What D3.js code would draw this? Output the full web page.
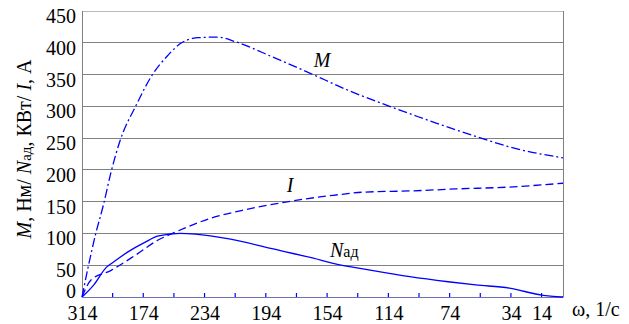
<!DOCTYPE html>
<html>
<head>
<meta charset="utf-8">
<script src="https://cdn.jsdelivr.net/npm/d3@7"></script>
<style>
  body { margin: 0; background: #fff; }
</style>
</head>
<body>
<svg width="629" height="324"></svg>
<script>
// omega values (1/c) and readings for each curve
const mOmega = [314, 310, 305, 300, 295, 289, 279, 268, 258, 249, 238, 226, 213, 190, 165, 140, 112, 95, 56, 30, 0]
const mValues = [0, 47, 100, 145, 197, 247, 300, 350, 380, 400, 408, 409, 401, 378, 352, 325, 299, 284, 252, 233, 219]

const iOmega = [314, 308, 295, 279, 264, 255, 237, 230, 210, 177, 150, 130, 98, 70, 35, 0]
const iValues = [0, 27, 42, 66, 90, 100, 118, 124, 136, 151, 160, 165, 167, 170, 173, 179]

const nOmega = [314, 306, 298, 294, 284, 273, 264, 250, 240, 217, 190, 163, 150, 125, 100, 75, 57, 35, 14, 0]
const nValues = [0, 20, 47, 54, 71, 86, 96, 100, 99, 91, 76, 61, 53, 42, 32, 24, 19, 14, 3, 0]

const yTicks = [0, 50, 100, 150, 200, 250, 300, 350, 400, 450]
const xTicks = d3.range(314, 0, -20)
// labels as printed on the original (note "174" where 274 belongs)
const xTickLabels = { 314: "314", 274: "174", 234: "234", 194: "194", 154: "154", 114: "114", 74: "74", 34: "34", 14: "14" }

const serif = "'Liberation Serif', 'DejaVu Serif', 'Times New Roman', serif"

const svg = d3.select("svg").style("font-family", serif)
const plotLeft = 82, plotRight = 563, plotTop = 11, plotBottom = 297

const x = d3.scaleLinear().domain([314, 0]).range([plotLeft, plotRight])
const y = d3.scaleLinear().domain([0, 450]).range([plotBottom, plotTop])

// grid
svg.append("g")
    .selectAll("line")
    .data(yTicks.filter(d => d > 0))
    .enter().append("line")
    .attr("x1", plotLeft).attr("x2", plotRight)
    .attr("y1", d => y(d)).attr("y2", d => y(d))
    .attr("stroke", d => d === 450 ? "#b8b8b8" : "#808080")
    .attr("stroke-width", 1)
    .attr("shape-rendering", "crispEdges")

// frame
svg.append("line").attr("x1", plotLeft).attr("x2", plotLeft).attr("y1", plotTop).attr("y2", plotBottom)
    .attr("stroke", "#808080").attr("shape-rendering", "crispEdges")
svg.append("line").attr("x1", plotRight).attr("x2", plotRight).attr("y1", plotTop).attr("y2", plotBottom)
    .attr("stroke", "#808080").attr("shape-rendering", "crispEdges")

// y axis labels
svg.append("g")
    .selectAll("text")
    .data(yTicks)
    .enter().append("text")
    .attr("x", 76)
    .attr("y", d => d === 0 ? y(d) - 6 : y(d) + 5)
    .attr("dy", "0.35em")
    .attr("text-anchor", "end")
    .style("font-size", "20px")
    .text(d => d)

// x axis
const xAxis = svg.append("g").attr("transform", `translate(0,${plotBottom})`)
    .call(d3.axisBottom(x).tickValues(xTicks).tickSize(0).tickFormat(d => xTickLabels[d] || ""))
xAxis.attr("font-family", null).attr("font-size", null)
xAxis.select(".domain").attr("stroke", "#7070b8")
xAxis.selectAll("text")
    .attr("dy", 0).attr("y", 23)
    .style("font-size", "20px")
    .attr("fill", "#000")

svg.append("g")
    .selectAll("line")
    .data(xTicks.slice(1))
    .enter().append("line")
    .attr("x1", d => x(d)).attr("x2", d => x(d))
    .attr("y1", plotBottom).attr("y2", plotBottom - 4)
    .attr("stroke", "#0000ff")
    .attr("stroke-width", 1.2)

// curves
const line = d3.line()
    .x(d => x(d[0]))
    .y(d => y(d[1]))
    .curve(d3.curveMonotoneX)

function drawCurve(omega, values, dash) {
    svg.append("path")
        .datum(d3.zip(omega, values))
        .attr("d", line)
        .attr("fill", "none")
        .attr("stroke", "#0000ff")
        .attr("stroke-width", 1.3)
        .attr("stroke-dasharray", dash)
}

drawCurve(mOmega, mValues, "9,3,2,3")
drawCurve(iOmega, iValues, "8,4")
drawCurve(nOmega, nValues, null)

// curve labels
svg.append("text").attr("x", 322).attr("y", 67).attr("text-anchor", "middle")
    .style("font-size", "20px").style("font-style", "italic").text("M")
svg.append("text").attr("x", 290).attr("y", 192).attr("text-anchor", "middle")
    .style("font-size", "20px").style("font-style", "italic").text("I")
const nLabel = svg.append("text").attr("x", 330).attr("y", 257).style("font-size", "20px")
nLabel.append("tspan").style("font-style", "italic").text("N")
nLabel.append("tspan").style("font-size", "16px").text("ад")

// axis titles
const yTitle = svg.append("text")
    .attr("transform", "translate(31,149) rotate(-90)")
    .attr("text-anchor", "middle")
    .style("font-size", "20px")
yTitle.append("tspan").style("font-style", "italic").text("M")
yTitle.append("tspan").text(", Нм/ ")
yTitle.append("tspan").style("font-style", "italic").text("N")
yTitle.append("tspan").style("font-size", "15px").text("ад")
yTitle.append("tspan").text(", КВт/ ")
yTitle.append("tspan").style("font-style", "italic").text("I")
yTitle.append("tspan").text(", А")

svg.append("text").attr("x", 572).attr("y", 316)
    .style("font-size", "20px").text("ω, 1/c")
</script>
</body>
</html>
